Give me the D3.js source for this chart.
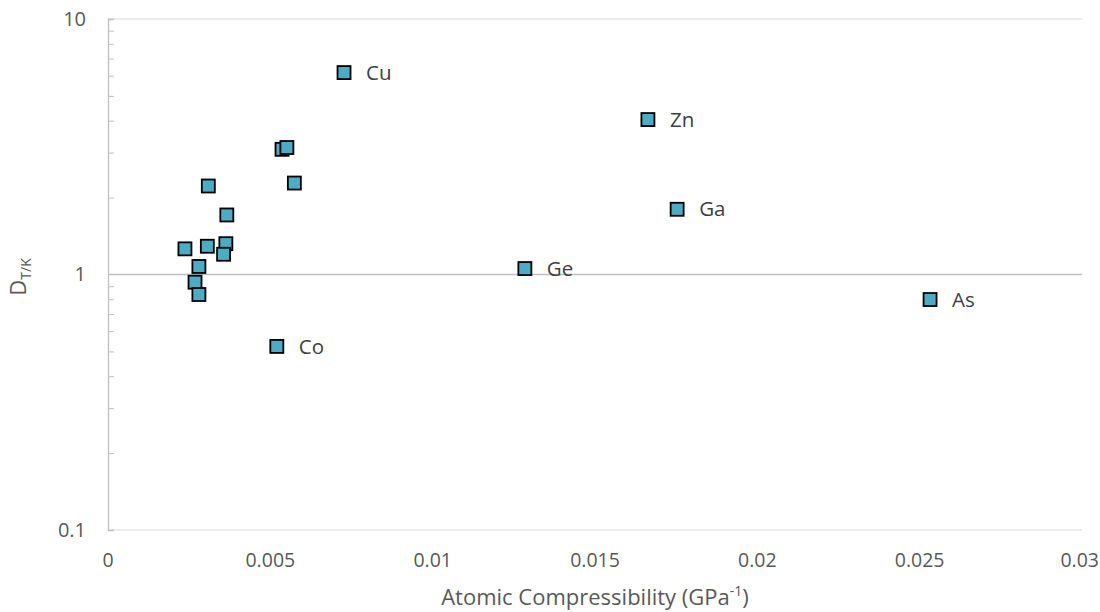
<!DOCTYPE html>
<html>
<head>
<meta charset="utf-8">
<script src="https://cdn.jsdelivr.net/npm/d3@7"></script>
<style>
  body { margin: 0; background: #fff; }
  text { font-family: "Open Sans", "Noto Sans", sans-serif; }
</style>
</head>
<body>
<div id="wrapper"></div>
<script>
// compressibility (GPa^-1) and D(T/K) for each point, label "" = unlabelled
const labels = ["", "", "", "", "", "", "", "", "", "", "", "", "Cu", "Zn", "Ga", "Ge", "As", "Co"];
const xVals = [0.00536, 0.00551, 0.00574, 0.00309, 0.00366, 0.00237, 0.00306, 0.00363, 0.00356, 0.0028, 0.00268, 0.0028,
               0.00727, 0.01663, 0.01753, 0.01284, 0.02532, 0.0052];
const yVals = [3.09, 3.14, 2.28, 2.22, 1.71, 1.26, 1.29, 1.32, 1.20, 1.075, 0.933, 0.835,
               6.17, 4.04, 1.80, 1.055, 0.798, 0.523];
const xTicks = [0, 0.005, 0.01, 0.015, 0.02, 0.025, 0.03];
const yTicks = [0.1, 1, 10];

const dataset = labels.map((l, i) => ({ label: l, x: xVals[i], y: yVals[i] }));

const width = 1100, height = 612;
const mLeft = 108, mRight = 1082, mTop = 19, mBottom = 530;
const fs = 23;   // titles
const tfs = 19.5; // tick and point labels

const canvas = d3.select("#wrapper").append("svg")
  .attr("width", width).attr("height", height);

const xScale = d3.scaleLinear().domain([0, 0.03]).range([mLeft, mRight]);
const yScale = d3.scaleLog().domain([0.1, 10]).range([mBottom, mTop]);

// gridlines at the decades
canvas.selectAll(".grid").data(yTicks.filter(d => d !== 1)).enter().append("line")
  .attr("x1", mLeft).attr("x2", mRight)
  .attr("y1", d => yScale(d)).attr("y2", d => yScale(d))
  .attr("stroke", "#d9d9d9").attr("stroke-width", 1);

// horizontal axis line crosses at 1
canvas.append("line")
  .attr("x1", mLeft).attr("x2", mRight)
  .attr("y1", yScale(1)).attr("y2", yScale(1))
  .attr("stroke", "#bfbfbf").attr("stroke-width", 1.3);

// vertical axis with minor ticks
const minor = [];
[0.1, 1].forEach(dec => { for (let k = 2; k <= 9; k++) minor.push(dec * k); });
const yAxis = d3.axisRight(yScale).tickValues(minor).tickSize(6).tickFormat("");
const yg = canvas.append("g").attr("transform", `translate(${mLeft},0)`).call(yAxis);
yg.select(".domain").attr("stroke", "#bfbfbf").attr("stroke-width", 1.3);
yg.selectAll(".tick line").attr("stroke", "#bfbfbf");

// y tick labels
canvas.selectAll(".ylab").data(yTicks).enter().append("text")
  .attr("x", 86).attr("y", d => yScale(d))
  .attr("dy", "0.34em").attr("text-anchor", "end")
  .attr("font-size", tfs + 0.5).attr("fill", "#595959")
  .text(d => String(d));

// x tick labels, last one kept inside the page
canvas.selectAll(".xlab").data(xTicks).enter().append("text")
  .attr("y", 567)
  .attr("text-anchor", "middle")
  .attr("font-size", tfs).attr("fill", "#595959")
  .text(d => String(d))
  .attr("x", function(d) {
    const w = this.getComputedTextLength();
    return Math.min(xScale(d), width - 1 - w / 2);
  });

// axis titles
const xt = canvas.append("text")
  .attr("x", (mLeft + mRight) / 2).attr("y", 605)
  .attr("text-anchor", "middle").attr("font-size", fs - 1).attr("fill", "#595959");
xt.append("tspan").text("Atomic Compressibility (GPa");
xt.append("tspan").attr("font-size", 14).attr("dy", -9).text("-1");
xt.append("tspan").attr("dy", 9).text(")");

const yt = canvas.append("text")
  .attr("transform", `translate(26,277) rotate(-90)`)
  .attr("text-anchor", "middle").attr("font-size", fs - 1).attr("fill", "#595959");
yt.append("tspan").text("D");
yt.append("tspan").attr("font-size", 14).attr("dy", 5).text("T/K");

// markers
const s = 13;
canvas.selectAll(".pt").data(dataset).enter().append("rect")
  .attr("x", d => xScale(d.x) - s / 2)
  .attr("y", d => yScale(d.y) - s / 2)
  .attr("width", s).attr("height", s)
  .attr("fill", "#4bacc6").attr("stroke", "#000").attr("stroke-width", 1.8);

// point labels
canvas.selectAll(".plab").data(dataset.filter(d => d.label)).enter().append("text")
  .attr("x", d => xScale(d.x) + 22)
  .attr("y", d => yScale(d.y))
  .attr("dy", "0.35em")
  .attr("font-size", tfs + 1).attr("fill", "#404040")
  .text(d => d.label);
</script>
</body>
</html>
